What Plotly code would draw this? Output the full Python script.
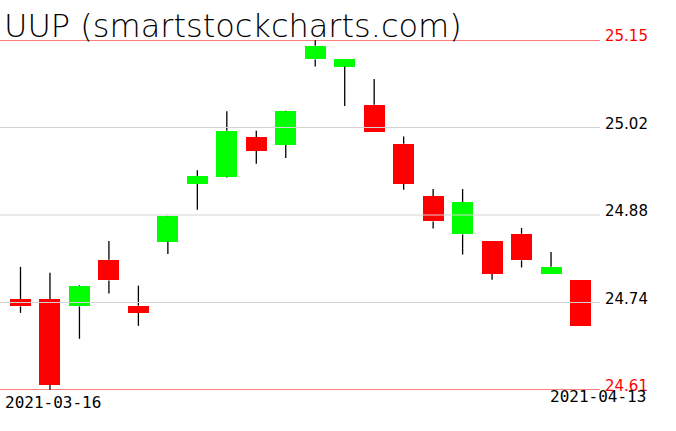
import numpy as np
import plotly.graph_objects as go

dates = ["2021-03-16", "2021-03-17", "2021-03-18", "2021-03-19", "2021-03-22",
         "2021-03-23", "2021-03-24", "2021-03-25", "2021-03-26", "2021-03-29",
         "2021-03-30", "2021-03-31", "2021-04-01", "2021-04-05", "2021-04-06",
         "2021-04-07", "2021-04-08", "2021-04-09", "2021-04-12", "2021-04-13"]
open_ = [24.750, 24.750, 24.739, 24.811, 24.740, 24.839, 24.928, 24.939, 25.000, 24.988,
         25.120, 25.109, 25.050, 24.990, 24.909, 24.850, 24.840, 24.851, 24.789, 24.780]
high = [24.800, 24.791, 24.772, 24.840, 24.771, 24.879, 24.949, 25.040, 25.010, 25.041,
        25.150, 25.121, 25.090, 25.001, 24.920, 24.920, 24.840, 24.860, 24.823, 24.780]
low = [24.729, 24.610, 24.689, 24.759, 24.709, 24.820, 24.888, 24.938, 24.959, 24.968,
       25.109, 25.048, 25.008, 24.919, 24.859, 24.819, 24.780, 24.799, 24.789, 24.709]
close = [24.739, 24.618, 24.771, 24.779, 24.729, 24.878, 24.940, 25.010, 24.979, 25.040,
         25.141, 25.121, 25.008, 24.928, 24.870, 24.900, 24.789, 24.810, 24.800, 24.709]
tick_labels = ["25.15", "25.02", "24.88", "24.74", "24.61"]
title_text = "UUP (smartstockcharts.com)"

n = len(dates)
idx = list(range(n))
hi = max(high)
lo = min(low)
tick_vals = list(np.linspace(hi, lo, len(tick_labels)))

GREEN = "#00ff00"
RED = "#ff0000"

body_top = [max(o, c) for o, c in zip(open_, close)]
body_bot = [min(o, c) for o, c in zip(open_, close)]
size = [t - b for t, b in zip(body_top, body_bot)]
colors = [GREEN if c >= o else RED for o, c in zip(open_, close)]

# wicks: upper (high -> body top) and lower (body bottom -> low), hidden behind body
wx, wy = [], []
for i in idx:
    wx += [i, i, None, i, i, None]
    wy += [high[i], body_top[i], None, body_bot[i], low[i], None]

fig = go.Figure()
fig.add_trace(go.Bar(x=idx, y=size, base=body_bot, width=0.7125,
                     marker=dict(color=colors, line=dict(width=0)),
                     showlegend=False, hovertext=dates))
fig.add_trace(go.Scatter(x=wx, y=wy, mode="lines",
                         line=dict(color="black", width=1.3),
                         hoverinfo="skip", showlegend=False, cliponaxis=False))

shapes = []
annotations = []
for k, (tv, tl) in enumerate(zip(tick_vals, tick_labels)):
    edge = k == 0 or k == len(tick_vals) - 1
    col = RED if edge else "#d3d3d3"
    shapes.append(dict(type="line", xref="paper", yref="y", x0=0, x1=1,
                       y0=tv, y1=tv, line=dict(color=col, width=1),
                       layer="above"))
    annotations.append(dict(xref="paper", yref="y", x=1, y=tv, text=tl,
                            showarrow=False, xanchor="left", yanchor="bottom",
                            xshift=3, yshift=-7,
                            font=dict(family="DejaVu Sans", size=15,
                                      color=RED if edge else "black")))

annotations.append(dict(xref="paper", yref="paper", x=0, y=0, text=dates[0],
                        showarrow=False, xanchor="left", yanchor="top",
                        xshift=3, yshift=-1,
                        font=dict(family="DejaVu Sans Mono", size=16, color="black")))
annotations.append(dict(xref="paper", yref="paper", x=1, y=0, text=dates[-1],
                        showarrow=False, xanchor="right", yanchor="top",
                        xshift=48, yshift=5,
                        font=dict(family="DejaVu Sans Mono", size=16, color="black")))
annotations.append(dict(xref="paper", yref="paper", x=0, y=1, text=title_text,
                        showarrow=False, xanchor="left", yanchor="bottom",
                        xshift=2, yshift=-7,
                        font=dict(family="DejaVu Sans", size=32, color="black",
                                  weight=200)))

scale = 560 / 19
xmin = -20.5 / scale
xmax = xmin + 600 / scale

fig.update_layout(
    width=676, height=431,
    margin=dict(l=0, r=76, t=40, b=41),
    paper_bgcolor="white", plot_bgcolor="white",
    xaxis=dict(range=[xmin, xmax], showgrid=False, zeroline=False,
               showticklabels=False, showline=False, fixedrange=True),
    yaxis=dict(range=[lo, hi], showgrid=False, zeroline=False,
               showticklabels=False, showline=False, fixedrange=True),
    shapes=shapes, annotations=annotations, bargap=0,
    showlegend=False,
)

fig.write_html("out.html", config={"displayModeBar": False},
               post_script="document.body.style.margin='0';")
